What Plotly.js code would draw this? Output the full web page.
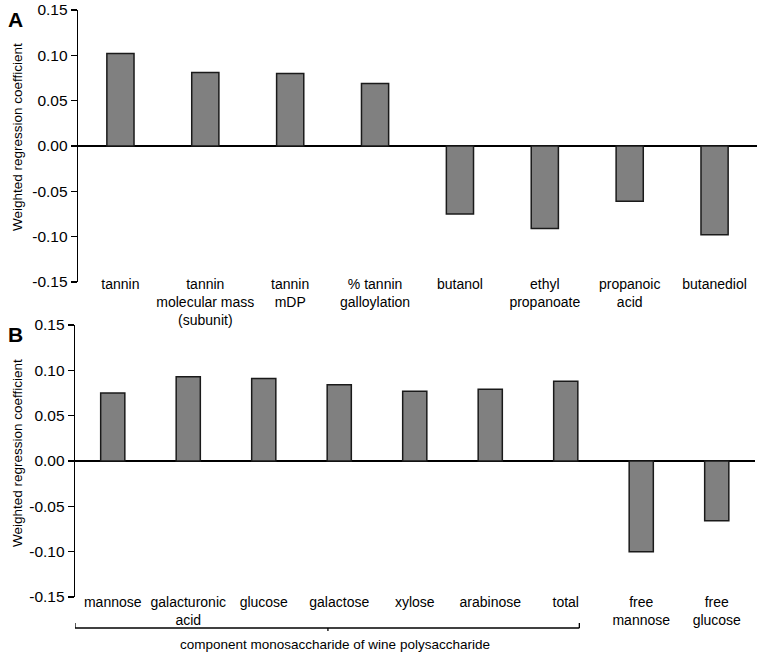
<!DOCTYPE html>
<html>
<head>
<meta charset="utf-8">
<script src="https://cdn.plot.ly/plotly-3.0.1.min.js"></script>
<style>html,body{margin:0;padding:0;background:#fff;}#chart{width:768px;height:661px;}</style>
</head>
<body>
<div id="chart"></div>
<script>
// Panel A data
const catsA = ['tannin', 'tannin<br>molecular mass<br>(subunit)', 'tannin<br>mDP', '% tannin<br>galloylation', 'butanol', 'ethyl<br>propanoate', 'propanoic<br>acid', 'butanediol'];
const valsA = [0.102, 0.081, 0.080, 0.069, -0.075, -0.091, -0.061, -0.098];
// Panel B data
const catsB = ['mannose', 'galacturonic<br>acid', 'glucose', 'galactose', 'xylose', 'arabinose', 'total', 'free<br>mannose', 'free<br>glucose'];
const valsB = [0.075, 0.093, 0.091, 0.084, 0.077, 0.079, 0.088, -0.100, -0.066];
// Y ticks
const yTickVals = [0.15, 0.10, 0.05, 0.00, -0.05, -0.10, -0.15];
const yTickText = ['0.15', '0.10', '0.05', '0.00', '-0.05', '-0.10', '-0.15'];
const yTitle = 'Weighted regression coefficient';
const bracketLabel = 'component monosaccharide of wine polysaccharide';
const groupedCount = 7; // mannose .. total

const FONT = 'Liberation Sans, Arial, Helvetica, sans-serif';
const W = 768, H = 661;
const px = v => v / W;
const py = v => 1 - v / H;

const barStyle = {color: '#808080', line: {color: '#1a1a1a', width: 1.5}};

const traces = [
  {type: 'bar', x: catsA, y: valsA, xaxis: 'x', yaxis: 'y', marker: barStyle, hoverinfo: 'x+y'},
  {type: 'bar', x: catsB, y: valsB, xaxis: 'x2', yaxis: 'y2', marker: barStyle, hoverinfo: 'x+y'}
];

function yax(domain, anchor) {
  return {
    domain: domain, anchor: anchor, range: [-0.15, 0.15],
    tickmode: 'array', tickvals: yTickVals, ticktext: yTickText,
    showline: true, linecolor: '#000', linewidth: 1.3,
    ticks: 'outside', ticklen: 6, tickwidth: 1.3, tickcolor: '#000',
    showgrid: false, zeroline: true, zerolinecolor: '#000', zerolinewidth: 1.3,
    tickfont: {family: FONT, size: 15.5, color: '#000'},
    automargin: false, fixedrange: true
  };
}
function xax(domain, anchor, n, standoff) {
  return {
    domain: domain, anchor: anchor, type: 'category', range: [-0.5, n - 0.5],
    showline: false, showgrid: false, zeroline: false, ticks: '',
    tickangle: 0, tickfont: {family: FONT, size: 14, color: '#000'},
    ticklabelstandoff: standoff, automargin: false, fixedrange: true
  };
}

const layout = {
  width: W, height: H,
  margin: {l: 0, r: 0, t: 0, b: 0},
  paper_bgcolor: '#fff', plot_bgcolor: 'rgba(0,0,0,0)',
  showlegend: false, bargap: 0.68,
  font: {family: FONT, color: '#000'},
  xaxis: xax([px(78), px(757)], 'y', catsA.length, -8),
  yaxis: yax([py(282), py(10)], 'x'),
  xaxis2: xax([px(75), px(754.5)], 'y2', catsB.length, -5),
  yaxis2: yax([py(597), py(325)], 'x2'),
  annotations: [
    {text: '<b>A</b>', xref: 'paper', yref: 'paper', x: px(15), y: py(20), showarrow: false, font: {family: FONT, size: 21, color: '#000'}, xanchor: 'center', yanchor: 'middle'},
    {text: '<b>B</b>', xref: 'paper', yref: 'paper', x: px(15), y: py(334), showarrow: false, font: {family: FONT, size: 21, color: '#000'}, xanchor: 'center', yanchor: 'middle'},
    {text: yTitle, xref: 'paper', yref: 'paper', x: px(17), y: py(137), textangle: -90, showarrow: false, font: {family: FONT, size: 13.5, color: '#000'}, xanchor: 'center', yanchor: 'middle'},
    {text: yTitle, xref: 'paper', yref: 'paper', x: px(17), y: py(453), textangle: -90, showarrow: false, font: {family: FONT, size: 13.5, color: '#000'}, xanchor: 'center', yanchor: 'middle'},
    {text: bracketLabel, xref: 'x2', yref: 'paper', x: (groupedCount - 1) / 2 - 0.05, y: py(644), showarrow: false, font: {family: FONT, size: 13.5, color: '#000'}, xanchor: 'center', yanchor: 'middle'}
  ],
  shapes: [
    {type: 'line', xref: 'x2', yref: 'paper', x0: -0.5, x1: groupedCount - 1 + 0.18, y0: py(628), y1: py(628), line: {color: '#000', width: 1.3}},
    {type: 'line', xref: 'x2', yref: 'paper', x0: -0.5, x1: -0.5, y0: py(628), y1: py(623), line: {color: '#000', width: 1.3}},
    {type: 'line', xref: 'x2', yref: 'paper', x0: groupedCount - 1 + 0.18, x1: groupedCount - 1 + 0.18, y0: py(628), y1: py(623), line: {color: '#000', width: 1.3}},
    {type: 'line', xref: 'x2', yref: 'paper', x0: (groupedCount - 1) / 2 - 0.15, x1: (groupedCount - 1) / 2 - 0.15, y0: py(628), y1: py(631), line: {color: '#000', width: 1.3}}
  ]
};

Plotly.newPlot('chart', traces, layout, {displayModeBar: false, staticPlot: true});
</script>
</body>
</html>
